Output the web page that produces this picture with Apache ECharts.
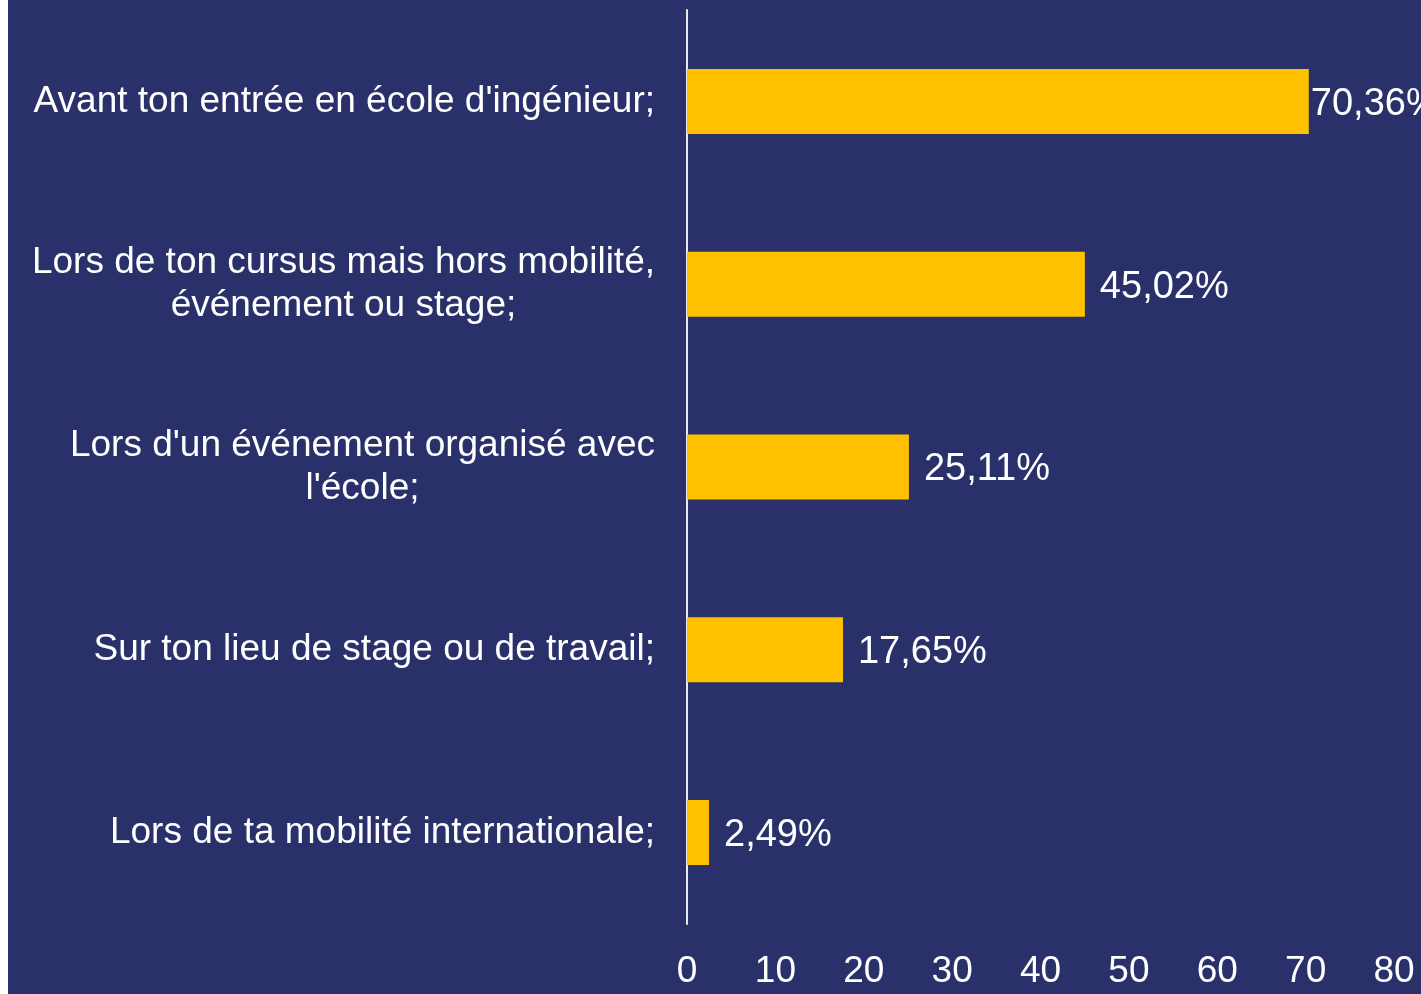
<!DOCTYPE html>
<html>
<head>
<meta charset="utf-8">
<script src="https://cdn.jsdelivr.net/npm/echarts@6/dist/echarts.min.js"></script>
<style>
    html, body { margin: 0; padding: 0; background: #ffffff; }
    #chart { position: absolute; left: 8px; top: 0; width: 1413px; height: 994px; }
</style>
</head>
<body>
<div id="chart"></div>
<script>
// catégories (de haut en bas) et pourcentages
var categories = [
    "Avant ton entrée en école d'ingénieur;",
    "Lors de ton cursus mais hors mobilité,\névénement ou stage;",
    "Lors d'un événement organisé avec\nl'école;",
    "Sur ton lieu de stage ou de travail;",
    "Lors de ta mobilité internationale;"
];
var values = [70.36, 45.02, 25.11, 17.65, 2.49];
var xTicks = [0, 80, 10]; // min, max, pas

// la plus longue barre : étiquette collée à la barre (comme dans l'original)
var seriesData = values.map(function (v, i) {
    return i === 0 ? { value: v, label: { distance: 2 } } : v;
});

var myChart = echarts.init(document.getElementById('chart'));
var option = {
    backgroundColor: '#29306a',
    textStyle: {
        fontFamily: 'Liberation Sans, Arial, sans-serif'
    },
    grid: {
        left: 679,
        right: 27,
        top: 10,
        bottom: 70
    },
    xAxis: {
        type: 'value',
        min: xTicks[0],
        max: xTicks[1],
        interval: xTicks[2],
        axisLine: { show: false },
        axisTick: { show: false },
        splitLine: { show: false },
        axisLabel: {
            color: '#ffffff',
            fontSize: 37,
            margin: 29
        }
    },
    yAxis: {
        type: 'category',
        inverse: true,
        data: categories,
        axisLine: {
            show: true,
            lineStyle: { color: '#e8e8ee', width: 2 }
        },
        axisTick: { show: false },
        axisLabel: {
            color: '#ffffff',
            fontSize: 37,
            margin: 32,
            align: 'right',
            formatter: function (v) {
                return v.split('\n').map(function (l) { return '{a|' + l + '}'; }).join('\n');
            },
            rich: {
                a: {
                    color: '#ffffff',
                    fontSize: 37,
                    lineHeight: 43,
                    align: 'center'
                }
            }
        }
    },
    series: [
        {
            type: 'bar',
            data: seriesData,
            barWidth: 65,
            itemStyle: { color: '#ffc000' },
            label: {
                show: true,
                position: 'right',
                distance: 15,
                offset: [0, 3],
                color: '#ffffff',
                fontSize: 38,
                formatter: function (p) {
                    return p.value.toFixed(2).replace('.', ',') + '%';
                }
            }
        }
    ]
};
myChart.setOption(option);
</script>
</body>
</html>
